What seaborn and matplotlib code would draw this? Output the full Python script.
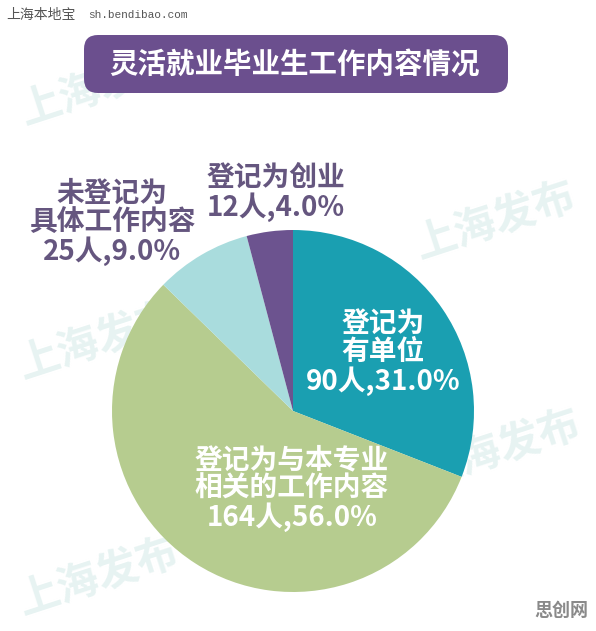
import matplotlib
matplotlib.use("Agg")
import matplotlib.pyplot as plt
from matplotlib.patches import FancyBboxPatch
import seaborn as sns

sns.set_theme(style="white")
plt.rcParams['font.family'] = ['Noto Sans CJK SC', 'DejaVu Sans']

# ---- data ----
categories = ["登记为\n有单位", "登记为与本专业\n相关的工作内容", "未登记为\n具体工作内容", "登记为创业"]
counts = [90, 164, 25, 12]
percents = [31.0, 56.0, 9.0, 4.0]
colors = ["#1a9fb1", "#b6cc8f", "#a9dcdd", "#6c538f"]
label_colors = ["white", "white", "#65567f", "#65567f"]
title = "灵活就业毕业生工作内容情况"
source_cn = "上海本地宝"
source_url = "sh.bendibao.com"
watermark = "上海发布"
logo = "思创网"

W, H = 596, 631
fig = plt.figure(figsize=(W / 100, H / 100), dpi=100)
fig.patch.set_facecolor("white")

# background axes in pixel coordinates
bg = fig.add_axes([0, 0, 1, 1])
bg.set_xlim(0, W)
bg.set_ylim(H, 0)
bg.axis("off")

# watermarks (under pie)
for (x, y) in [(100, 88), (495, 222), (98, 342), (500, 450), (98, 578)]:
    bg.text(x, y, watermark, fontsize=30, fontweight="bold", color="#e7f3f2",
            rotation=18, ha="center", va="center", zorder=0)

# title box
box = FancyBboxPatch((84, 35), 424, 58, boxstyle="round,pad=0,rounding_size=14",
                     facecolor="#6b4f8e", edgecolor="none", zorder=2)
bg.add_patch(box)
bg.text(294, 65, title, fontsize=20.5, fontweight="bold", color="white",
        ha="center", va="center", zorder=3)

# source text
bg.text(6, 15, source_cn, fontsize=10, color="#555555", ha="left", va="center")
bg.text(88, 15, source_url, fontsize=8, color="#555555", ha="left", va="center",
        family="Liberation Mono")

# logo
bg.text(561, 610, logo, fontsize=13, fontweight="bold", color="#8a8a8a",
        ha="center", va="center")

# pie axes
cx, cy, r = 293, 411, 181
pie_ax = fig.add_axes([(cx - r) / W, (H - cy - r) / H, 2 * r / W, 2 * r / H])
pie_ax.pie(counts, colors=colors, startangle=90, counterclock=False,
           wedgeprops=dict(linewidth=0))
pie_ax.set_xlim(-1, 1)
pie_ax.set_ylim(-1, 1)
pie_ax.set_aspect("equal")
pie_ax.axis("off")

# labels (front axes on top of pie)
fg = fig.add_axes([0, 0, 1, 1], facecolor="none")
fg.set_xlim(0, W)
fg.set_ylim(H, 0)
fg.axis("off")
label_pos = [(383, 353), (292, 489), (112, 223), (276, 193)]
for cat, n, p, c, (x, y) in zip(categories, counts, percents, label_colors, label_pos):
    txt = f"{cat}\n{n}人,{p:.1f}%"
    fg.text(x, y, txt, fontsize=20, fontweight="bold", color=c, ha="center",
            va="center", linespacing=1.0)

fig.savefig("out.png", dpi=100, facecolor="white")
